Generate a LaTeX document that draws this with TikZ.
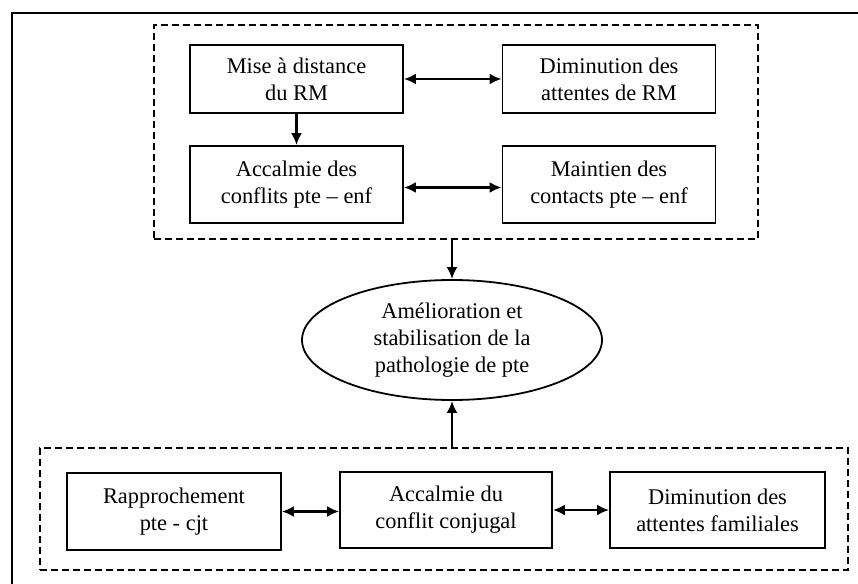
\documentclass[tikz,border=0pt]{standalone}
\usepackage{fontspec}
\setmainfont{Liberation Serif}
\usetikzlibrary{arrows.meta,shapes.geometric}
\begin{document}
\begin{tikzpicture}[x=1bp,y=-1bp,
  every node/.style={font=\fontsize{22.5}{27}\selectfont, align=center, inner sep=0pt},
  stepbox/.style={draw, line width=1.8bp, minimum width=213bp, minimum height=70bp},
  groupbox/.style={draw, dashed, dash pattern=on 7bp off 4bp, line width=2.2bp},
  goal/.style={draw, ellipse, line width=1.8bp, minimum width=300bp, minimum height=120bp},
  arr/.style={line width=2.8bp, -{Latex[length=12bp,width=11bp]}},
  biarr/.style={line width=2.8bp, {Latex[length=12bp,width=11bp]}-{Latex[length=12bp,width=11bp]}}]
\useasboundingbox (0,0) rectangle (858,584);

% outer frame
\draw[line width=1.8bp] (12,584) -- (12,13) -- (858,13);

% upper group
\node[groupbox, minimum width=604bp, minimum height=214bp] (up) at (456,132) {};
\node[stepbox, minimum height=68bp] (mise) at (296.5,79) {Mise à distance\\du RM};
\node[stepbox, minimum height=68bp] (dimrm) at (609,79) {Diminution des\\attentes de RM};
\node[stepbox, minimum height=77bp] (accal) at (296.5,184.5) {Accalmie des\\conflits pte -- enf};
\node[stepbox, minimum height=77bp] (maint) at (609,184.5) {Maintien des\\contacts pte -- enf};

% central outcome
\node[goal] (goal) at (452,340) {Amélioration et\\stabilisation de la\\pathologie de pte};

% lower group
\node[groupbox, minimum width=808bp, minimum height=122bp] (low) at (444,509) {};
\node[stepbox, minimum width=214bp, minimum height=77bp] (rappr) at (174,511.5) {Rapprochement\\pte - cjt};
\node[stepbox, minimum width=212bp, minimum height=76bp] (conj) at (446,510) {Accalmie du\\conflit conjugal};
\node[stepbox, minimum width=215bp, minimum height=76bp] (fam) at (717.5,510) {Diminution des\\attentes familiales};

% connectors
\draw[biarr] (mise) -- (dimrm);
\draw[biarr] ([yshift=-3bp]accal.east) -- ([yshift=-3bp]maint.west);
\draw[arr] (mise) -- (accal);
\draw[arr] (up.south -| goal.north) -- (goal.north);
\draw[arr] (low.north -| goal.south) -- (goal.south);
\draw[biarr] (rappr) -- (rappr -| conj.west);
\draw[biarr] (conj) -- (conj -| fam.west);
\end{tikzpicture}
\end{document}
